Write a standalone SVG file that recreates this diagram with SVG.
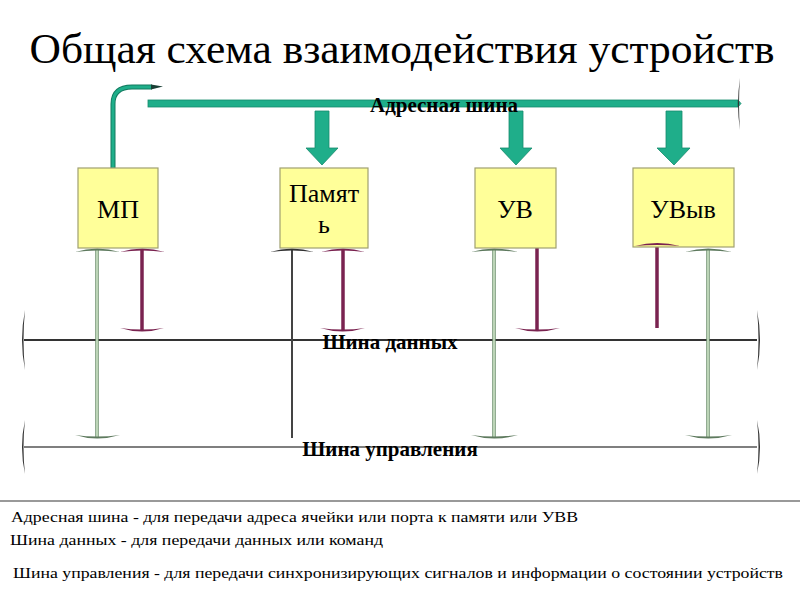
<svg xmlns="http://www.w3.org/2000/svg" width="800" height="600" viewBox="0 0 800 600">
<style>
.box{fill:#FFFF99;stroke:#A0A070;stroke-width:1.2}
.gout{stroke:#6E8F6E;stroke-width:3.5;fill:none}
.gin{stroke:#DDF2D6;stroke-width:1.4;fill:none}
.pur{stroke:#7A2350;stroke-width:3.5;fill:none}
.head{fill:#333}
.phead{fill:#7A2350}
.ghead{fill:#5E7A5E}
.teal{fill:#1FAE8A;stroke:#168a6c;stroke-width:0.8}
</style>
<text x="402" y="63" font-family="'Liberation Serif', serif" font-size="42" text-anchor="middle" fill="#000" textLength="745" lengthAdjust="spacingAndGlyphs">Общая схема взаимодействия устройств</text>

<g id="connectors">
  <rect class="teal" x="148" y="100" width="590" height="7"/>
  <path class="teal" d="M738,100 L741,103.5 L738,107 Z"/>
  <path class="head" d="M740,78 Q736,104 740,130 Q738,104 740,78 Z"/>
  <path d="M113,168 L113,104 Q113,87 132,87 L152,87" stroke="#137a5f" stroke-width="5" fill="none"/>
  <path d="M113,168 L113,104 Q113,87 132,87 L152,87" stroke="#1FAE8A" stroke-width="3" fill="none"/>
  <path d="M151,84.5 L163,86.5 L151,89.5 Z" fill="#1a3f35"/>
  <path class="teal" d="M315,111 L329,111 L329,148 L338,148 L322,165 L306,148 L315,148 Z"/>
  <path class="teal" d="M509,111 L523,111 L523,148 L532,148 L516,165 L500,148 L509,148 Z"/>
  <path class="teal" d="M666,111 L682,111 L682,148 L690,148 L674,165 L657,148 L666,148 Z"/>

  <line x1="24" y1="340" x2="757" y2="340" stroke="#333" stroke-width="2"/>
  <path class="head" d="M25,310 Q19,340 25,370 Q22,340 25,310 Z"/>
  <path class="head" d="M757,310 Q763,340 757,370 Q760,340 757,310 Z"/>
  <line x1="24" y1="447" x2="757" y2="447" stroke="#555" stroke-width="1.6"/>
  <path class="head" d="M25,420 Q19,447 25,474 Q22,447 25,420 Z"/>
  <path class="head" d="M757,420 Q763,447 757,474 Q760,447 757,420 Z"/>

  <line class="gout" x1="97" y1="250" x2="97" y2="437"/>
  <line class="gin" x1="97" y1="250" x2="97" y2="437"/>
  <path class="ghead" d="M75,252 Q97,245 120,252 Q97,249 75,252 Z"/>
  <path class="ghead" d="M75,435 Q97,442 120,435 Q97,438 75,435 Z"/>
  <line class="pur" x1="142" y1="250" x2="142" y2="330"/>
  <path class="phead" d="M120,252 Q142,245 165,252 Q142,249 120,252 Z"/>
  <path class="phead" d="M120,328 Q142,335 164,328 Q142,331 120,328 Z"/>

  <line x1="292" y1="250" x2="292" y2="438" stroke="#444" stroke-width="2"/>
  <path class="head" d="M270,252 Q292,245 314,252 Q292,249 270,252 Z"/>
  <line class="pur" x1="343" y1="250" x2="343" y2="330"/>
  <path class="phead" d="M321,252 Q343,245 365,252 Q343,249 321,252 Z"/>
  <path class="phead" d="M320,328 Q343,335 365,328 Q343,331 320,328 Z"/>

  <line class="gout" x1="494" y1="250" x2="494" y2="437"/>
  <line class="gin" x1="494" y1="250" x2="494" y2="437"/>
  <path class="ghead" d="M471,252 Q494,245 518,252 Q494,249 471,252 Z"/>
  <path class="ghead" d="M471,435 Q494,442 518,435 Q494,438 471,435 Z"/>
  <line class="pur" x1="537" y1="246" x2="537" y2="330"/>
  <path class="phead" d="M515,328 Q537,335 560,328 Q537,331 515,328 Z"/>

  <line class="pur" x1="657" y1="246" x2="657" y2="328"/>
  <line class="gout" x1="708" y1="250" x2="708" y2="437"/>
  <line class="gin" x1="708" y1="250" x2="708" y2="437"/>
  <path class="ghead" d="M685,252 Q708,245 732,252 Q708,249 685,252 Z"/>
  <path class="ghead" d="M685,435 Q708,442 732,435 Q708,438 685,435 Z"/>
</g>

<g font-family="'Liberation Serif', serif" font-size="26" text-anchor="middle" fill="#000">
<g id="mp">
  <rect class="box" x="78" y="168" width="80" height="80"/>
  <text x="118" y="218">МП</text>
</g>
<g id="memory">
  <rect class="box" x="280" y="168" width="88" height="80"/>
  <text x="324" y="202">Памят</text>
  <text x="324" y="233">ь</text>
</g>
<g id="uv">
  <rect class="box" x="475" y="168" width="81" height="80"/>
  <text x="515" y="218">УВ</text>
</g>
<g id="uvyv">
  <rect class="box" x="633" y="168" width="101" height="79"/>
  <path class="phead" d="M635,246 Q657,240 680,246 Q657,244 635,246 Z"/>
  <text x="683" y="218">УВыв</text>
</g>
</g>

<g font-family="'Liberation Serif', serif" font-size="21" font-weight="bold" text-anchor="middle" fill="#000">
<text x="444" y="112">Адресная шина</text>
<text x="390" y="349">Шина данных</text>
<text x="390" y="456">Шина управления</text>
</g>

<line x1="0" y1="501" x2="800" y2="501" stroke="#777" stroke-width="1.5"/>
<g font-family="'Liberation Serif', serif" font-size="15" fill="#000">
<text x="11" y="522" textLength="567" lengthAdjust="spacingAndGlyphs">Адресная шина - для передачи адреса ячейки или порта к памяти или УВВ</text>
<text x="10" y="545" textLength="373" lengthAdjust="spacingAndGlyphs">Шина данных - для передачи данных или команд</text>
<text x="13" y="578" textLength="770" lengthAdjust="spacingAndGlyphs">Шина управления - для передачи синхронизирующих сигналов и информации о состоянии устройств</text>
</g>
</svg>
